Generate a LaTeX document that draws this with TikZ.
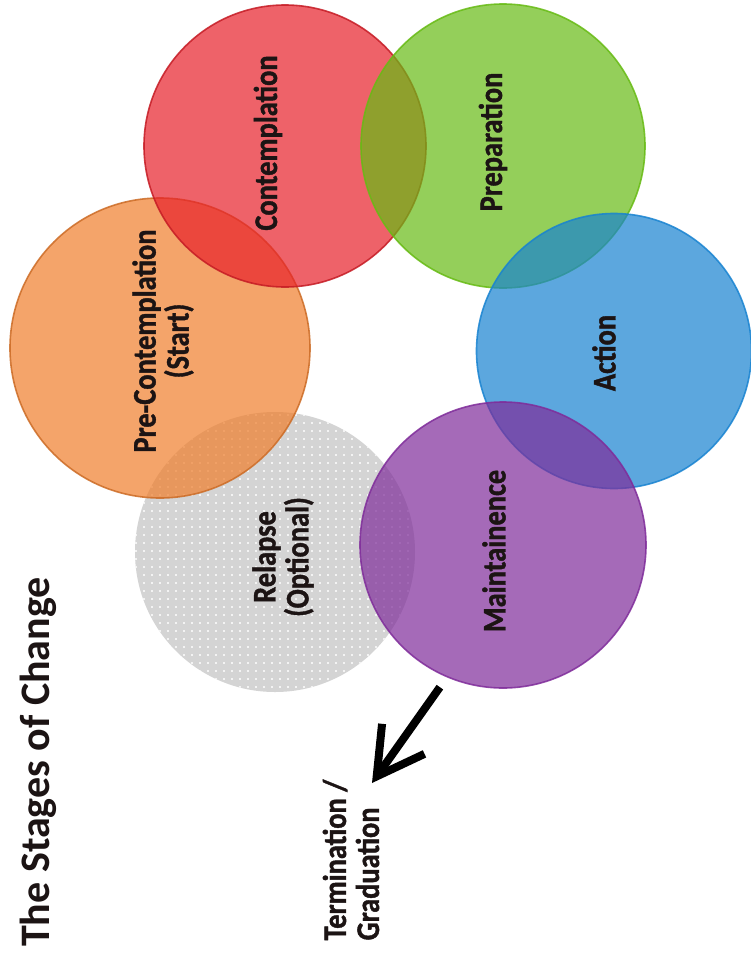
\documentclass[tikz,border=0pt]{standalone}
\usepackage{fontspec}
\setmainfont{Carlito}
\newfontfamily\labfont{Carlito}[FakeStretch=0.86, BoldFont=Carlito Bold, BoldFeatures={FakeBold=1.2}]
\usetikzlibrary{arrows.meta,patterns.meta}
\definecolor{cOrange}{HTML}{F07E2B}
\definecolor{cRed}{HTML}{E8202A}
\definecolor{cGreen}{HTML}{67BB14}
\definecolor{cBlue}{HTML}{1883D1}
\definecolor{cPurple}{HTML}{7F2C9A}
\definecolor{cGray}{HTML}{D4D4D4}
\definecolor{labtext}{HTML}{1C1414}
\begin{document}
\begin{tikzpicture}[x=1pt,y=-1pt,
  stage/.style={circle, inner sep=0pt, line width=1.6pt, fill opacity=0.7, draw opacity=0.85},
  lbl/.style={rotate=90, inner sep=0pt, text=labtext, align=center,
    font=\labfont\bfseries\fontsize{33}{33}\selectfont},
  titlefont/.style={rotate=90, inner sep=0pt, text=labtext,
    font=\bfseries\fontsize{42}{42}\selectfont}]
\useasboundingbox[fill=white] (0,0) rectangle (751,959);

% circles
\node[circle, inner sep=0pt, minimum size=280pt, fill=cGray] (relapse) at (275,552) {};
\node[circle, inner sep=0pt, minimum size=280pt,
      pattern={Dots[radius=1.1pt,distance=8pt]}, pattern color=white] (relapseDots) at (relapse.center) {};
\node[stage, minimum size=300pt, fill=cOrange, draw=cOrange!85!black] (pre) at (160,348) {};
\node[stage, minimum size=282pt, fill=cRed, draw=cRed!85!black] (cont) at (285,146) {};
\node[stage, minimum size=284pt, fill=cGreen, draw=cGreen] (prep) at (503,146) {};
\node[stage, minimum size=275pt, fill=cBlue, draw=cBlue] (action) at (614,351) {};
\node[stage, minimum size=286pt, fill=cPurple, draw=cPurple] (maint) at (503,545) {};

% labels
\node[lbl] (contL) at (268,143) {Contemplation};
\node[lbl] (prepL) at (493,142) {Preparation};
\node[lbl] (actionL) at (604,353) {Action};
\node[lbl] (preL) at (163,341) {Pre-Contemplation\\(Start)};
\node[lbl] (relapseL) at (283,557) {Relapse\\(Optional)};
\node[lbl] (maintL) at (494,551) {Maintainence};
\node[lbl, align=left] (term) at (351,860) {Termination /\\Graduation};
\node[titlefont] (title) at (38,762) {The Stages of Change};

% arrow
\coordinate (termTip) at (372,783);
\draw[line width=8pt, shorten <=12pt, -{Straight Barb[length=46pt,width=52pt]}] (maint.-113) -- (termTip);
\end{tikzpicture}
\end{document}
